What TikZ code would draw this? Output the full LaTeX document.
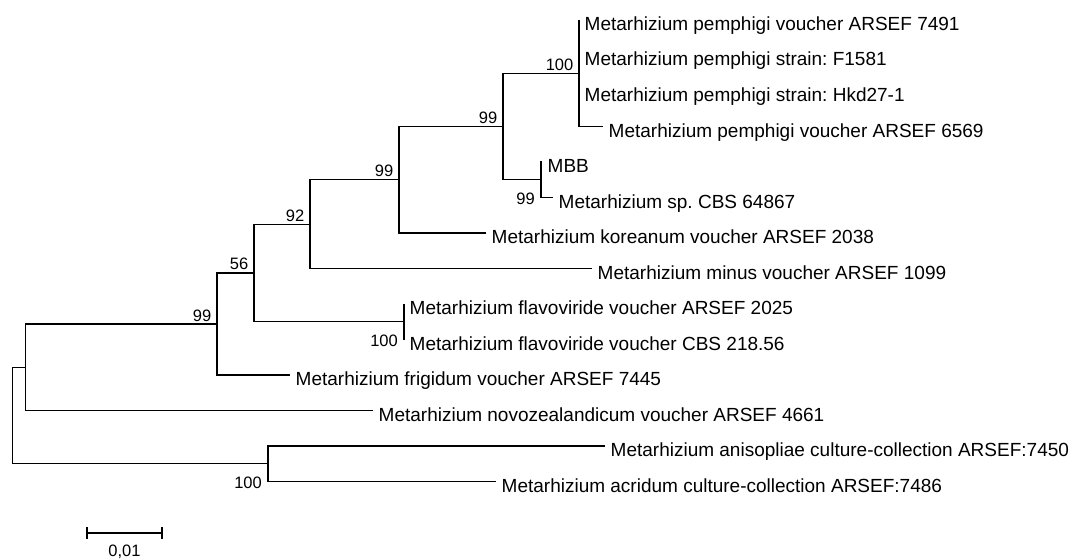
\documentclass[tikz,border=0pt]{standalone}
\usepackage{fontspec}
\setmainfont{Liberation Sans}
\usepackage{tikz}
\frenchspacing

\begin{document}
\begin{tikzpicture}[x=1pt, y=-1pt,
		branch/.style={line width=1.2pt},
		taxon/.style={anchor=base west, inner sep=0pt, xshift=5.5pt, yshift=-10.5pt, font=\fontsize{19}{22}\selectfont},
		bsabove/.style={anchor=base east, inner sep=0pt, xshift=-5.5pt, yshift=3pt, font=\fontsize{16.5}{19}\selectfont},
		bsbelow/.style={anchor=base east, inner sep=0pt, xshift=-6pt, yshift=-6.5pt, font=\fontsize{16.5}{19}\selectfont}]
				\useasboundingbox (0,0) rectangle (1075,559);

				% internal nodes
				\coordinate (root) at (12.7,415.3);
				\coordinate (n1) at (25.7,367.2);
				\coordinate (n2) at (217,324);
				\coordinate (n3) at (254,272.9);
				\coordinate (n4) at (310,224.1);
				\coordinate (n5) at (399,179.75);
				\coordinate (n6) at (503,126.5);
				\coordinate (n7) at (579,73.25);
				\coordinate (n8) at (541,179.75);
				\coordinate (nf) at (404,321.75);
				\coordinate (na) at (268,463.75);

				% leaf tips
				\coordinate (p1) at (579,20);
				\coordinate (p2) at (579,55.5);
				\coordinate (p3) at (579,91);
				\coordinate (p4) at (603,126.5);
				\coordinate (mbb) at (542,162);
				\coordinate (cbs) at (553,197.5);
				\coordinate (kor) at (486,233);
				\coordinate (minus) at (592,268.5);
				\coordinate (fl1) at (404,304);
				\coordinate (fl2) at (404,339.5);
				\coordinate (frig) at (290,375);
				\coordinate (novo) at (373,410.5);
				\coordinate (anis) at (605,446);
				\coordinate (acri) at (496,481.5);

				% branches
				\draw[branch] (n1) -| (root) |- (na);
				\draw[branch] (n2) -| (n1) |- (novo);
				\draw[branch] (n3) -| (n2) |- (frig);
				\draw[branch] (n4) -| (n3) |- (nf);
				\draw[branch] (n5) -| (n4) |- (minus);
				\draw[branch] (n6) -| (n5) |- (kor);
				\draw[branch] (n7) -| (n6) |- (n8);
				\draw[branch] (p1) -- (p3) |- (p4);
				\draw[branch] (mbb) -| (n8) |- (cbs);
				\draw[branch] (fl1) -- (fl2);
				\draw[branch] (anis) -| (na) |- (acri);

				% taxa
				\node[taxon] (tp1) at (p1) {Metarhizium pemphigi voucher ARSEF 7491};
				\node[taxon] (tp2) at (p2) {Metarhizium pemphigi strain: F1581};
				\node[taxon] (tp3) at (p3) {Metarhizium pemphigi strain: Hkd27-1};
				\node[taxon] (tp4) at (p4) {Metarhizium pemphigi voucher ARSEF 6569};
				\node[taxon] (tmbb) at (mbb) {MBB};
				\node[taxon] (tcbs) at (cbs) {Metarhizium sp. CBS 64867};
				\node[taxon] (tkor) at (kor) {Metarhizium koreanum voucher ARSEF 2038};
				\node[taxon] (tminus) at (minus) {Metarhizium minus voucher ARSEF 1099};
				\node[taxon] (tfl1) at (fl1) {Metarhizium flavoviride voucher ARSEF 2025};
				\node[taxon] (tfl2) at (fl2) {Metarhizium flavoviride voucher CBS 218.56};
				\node[taxon] (tfrig) at (frig) {Metarhizium frigidum voucher ARSEF 7445};
				\node[taxon] (tnovo) at (novo) {Metarhizium novozealandicum voucher ARSEF 4661};
				\node[taxon] (tanis) at (anis) {Metarhizium anisopliae culture-collection ARSEF:7450};
				\node[taxon] (tacri) at (acri) {Metarhizium acridum culture-collection ARSEF:7486};

				% bootstrap values
				\node[bsabove] (b7) at (n7) {100};
				\node[bsabove] (b6) at (n6) {99};
				\node[bsabove] (b5) at (n5) {99};
				\node[bsabove] (b4) at (n4) {92};
				\node[bsabove] (b3) at (n3) {56};
				\node[bsabove] (b2) at (n2) {99};
				\node[bsbelow] (b8) at (n8 |- cbs) {99};
				\node[bsbelow] (bf) at (nf |- fl2) {100};
				\node[bsbelow] (ba) at (na |- acri) {100};

				% scale bar
				\coordinate (sb1) at (87,533);
				\coordinate (sb2) at (162,533);
				\draw[branch] (sb1) -- (sb2);
				\draw[branch] ([yshift=6pt]sb1) -- ([yshift=-6pt]sb1);
				\draw[branch] ([yshift=6pt]sb2) -- ([yshift=-6pt]sb2);
				\node[anchor=base, inner sep=0pt, font=\fontsize{16.5}{19}\selectfont] (sblabel) at (124.5,556.5) {0,01};
			\end{tikzpicture}
\end{document}
